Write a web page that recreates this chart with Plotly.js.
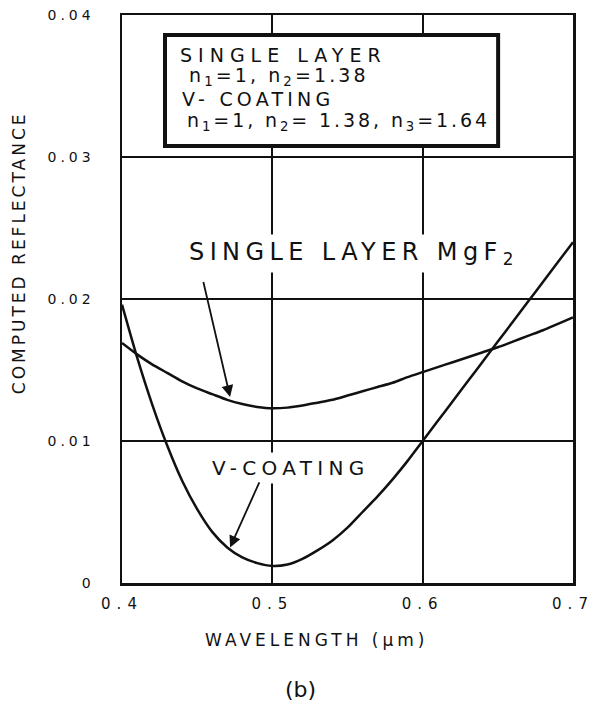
<!DOCTYPE html>
<html>
<head>
<meta charset="utf-8">
<script src="https://cdn.plot.ly/plotly-3.0.1.min.js"></script>
<style>
  body { margin: 0; background: #fff; }
  #chart { width: 600px; height: 703px; }
  .xtick text { letter-spacing: 6px; }
  .ytick text { letter-spacing: 4px; }
</style>
</head>
<body>
<div id="chart"></div>
<script>
// Wavelength (µm)
const wavelength = [0.40,0.41,0.42,0.43,0.44,0.45,0.46,0.47,0.48,0.49,0.50,
                    0.51,0.52,0.53,0.54,0.55,0.56,0.57,0.58,0.59,0.60,
                    0.61,0.62,0.63,0.64,0.65,0.66,0.67,0.68,0.69,0.70];
// Single layer MgF2 reflectance
const singleLayer = [0.0169,0.0161,0.0154,0.0148,0.0142,0.0137,0.0133,0.0129,0.0126,0.0124,0.0123,
                     0.01235,0.0125,0.0127,0.0129,0.0132,0.0135,0.0138,0.0141,0.0145,0.01485,
                     0.0152,0.01555,0.0159,0.01625,0.0166,0.0170,0.0174,0.0178,0.01825,0.0187];
// V-coating reflectance
const vCoating = [0.0196,0.0159,0.0126,0.0097,0.0072,0.0052,0.0036,0.0025,0.0018,0.0014,0.0012,
                  0.0013,0.0017,0.0023,0.0030,0.0039,0.0050,0.0061,0.0073,0.0086,0.0100,
                  0.0114,0.0128,0.0142,0.0156,0.0170,0.0184,0.0198,0.0212,0.0226,0.0240];

const xTickVals = [0.4, 0.5, 0.6, 0.7];
const xTickText = ['0.4', '0.5', '0.6', '0.7'];
const yTickVals = [0, 0.01, 0.02, 0.03, 0.04];
const yTickText = ['0', '0.01', '0.02', '0.03', '0.04'];

// legend box text lines
const boxLines = [
  'SINGLE LAYER',
  'n<sub>1</sub>=1, n<sub>2</sub>=1.38',
  'V- COATING',
  'n<sub>1</sub>=1, n<sub>2</sub>= 1.38, n<sub>3</sub>=1.64'
];

const FONT = 'DejaVu Sans, sans-serif';
const INK = '#111';
const ls = (px, s) => '<span style="letter-spacing:' + px + 'px">' + s + '</span>';

const traces = [
  { x: wavelength, y: singleLayer, mode: 'lines', name: 'Single layer MgF2',
    line: { color: INK, width: 2.5, shape: 'spline', smoothing: 0.6 } },
  { x: wavelength, y: vCoating, mode: 'lines', name: 'V-coating',
    line: { color: INK, width: 2.5, shape: 'spline', smoothing: 0.6 } }
];

// layout positions for the box lines (data coords)
const boxLineX = [0.4373, 0.4432, 0.4386, 0.4419];
const boxLineY = [0.03718, 0.03565, 0.03405, 0.03250];
const boxLineSpacing = [6, 3.1, 4.2, 2.9];

const boxAnnotations = boxLines.map((t, i) => ({
  xref: 'x', yref: 'y', x: boxLineX[i], y: boxLineY[i], xanchor: 'left', yanchor: 'middle',
  showarrow: false, text: ls(boxLineSpacing[i], t),
  font: { family: FONT, size: 19, color: INK }
}));

const layout = {
  width: 600, height: 703,
  margin: { l: 122, r: 27, t: 15, b: 120 },
  paper_bgcolor: '#fff', plot_bgcolor: '#fff',
  showlegend: false,
  font: { family: FONT, color: INK },
  xaxis: {
    range: [0.4, 0.7], tickvals: xTickVals, ticktext: xTickText,
    showgrid: true, gridcolor: INK, gridwidth: 2,
    showline: true, linecolor: INK, linewidth: 2.5, mirror: true,
    ticks: '', zeroline: false,
    tickfont: { family: FONT, size: 15, color: INK },
    ticklabelstandoff: 5
  },
  yaxis: {
    range: [0, 0.04], tickvals: yTickVals, ticktext: yTickText,
    showgrid: true, gridcolor: INK, gridwidth: 2,
    showline: true, linecolor: INK, linewidth: 2.5, mirror: true,
    ticks: '', zeroline: false,
    tickfont: { family: FONT, size: 14, color: INK },
    ticklabelstandoff: 22
  },
  shapes: [
    { type: 'rect', xref: 'x', yref: 'y', x0: 0.4286, x1: 0.6502, y0: 0.03077, y1: 0.03859,
      line: { color: INK, width: 4 }, fillcolor: '#fff', layer: 'above' }
  ],
  annotations: boxAnnotations.concat([
    // curve labels
    { xref: 'x', yref: 'y', x: 0.5544, y: 0.0232, showarrow: false,
      text: ls(5.4, 'SINGLE LAYER MgF<sub>2</sub>'), bgcolor: '#fff', borderpad: 3,
      font: { family: FONT, size: 24, color: INK } },
    { xref: 'x', yref: 'y', axref: 'x', ayref: 'y', x: 0.4719, y: 0.0131, ax: 0.4539, ay: 0.0213,
      text: '', showarrow: true, arrowhead: 2, arrowsize: 1.3, arrowwidth: 1.8, arrowcolor: INK },
    { xref: 'x', yref: 'y', x: 0.5124, y: 0.0081, showarrow: false,
      text: ls(5.3, 'V-COATING'), bgcolor: '#fff', borderpad: 3,
      font: { family: FONT, size: 20, color: INK } },
    { xref: 'x', yref: 'y', axref: 'x', ayref: 'y', x: 0.4719, y: 0.0025, ax: 0.4918, ay: 0.0072,
      text: '', showarrow: true, arrowhead: 2, arrowsize: 1.3, arrowwidth: 1.8, arrowcolor: INK },
    // axis titles
    { xref: 'paper', yref: 'paper', x: -0.228, y: 0.581, textangle: -90, showarrow: false,
      xanchor: 'center', yanchor: 'middle',
      text: ls(3, 'COMPUTED REFLECTANCE'), font: { family: FONT, size: 17, color: INK } },
    { xref: 'paper', yref: 'paper', x: 0.432, y: -0.1, showarrow: false,
      xanchor: 'center', yanchor: 'middle',
      text: ls(4, 'WAVELENGTH (μm)'), font: { family: FONT, size: 17, color: INK } },
    { xref: 'paper', yref: 'paper', x: 0.395, y: -0.188, showarrow: false, yanchor: 'middle',
      text: '(b)', font: { family: FONT, size: 22, color: INK } }
  ])
};

Plotly.newPlot('chart', traces, layout, { displayModeBar: false, staticPlot: true });
</script>
</body>
</html>
